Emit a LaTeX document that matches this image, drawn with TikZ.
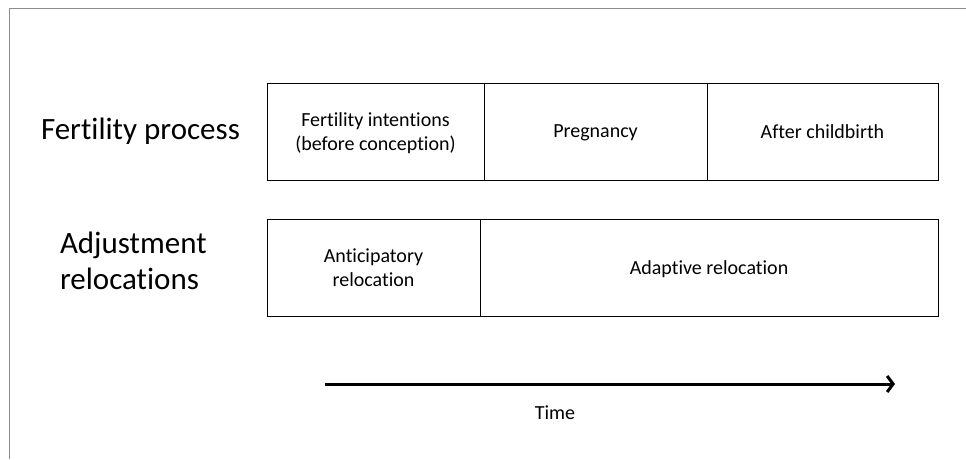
\documentclass[tikz,border=0pt]{standalone}
\usepackage{fontspec}
\setmainfont[Ligatures=NoCommon]{Carlito}
\usetikzlibrary{positioning,arrows.meta}

\begin{document}
\begin{tikzpicture}[
    x=1pt, y=-1pt,
    node distance=0pt,
    outer sep=0pt,
    stage/.style={draw, line width=0.9pt, rectangle, minimum height=97pt, inner sep=2pt, text depth=0pt, align=center, font=\fontsize{20}{23.5}\selectfont},
    rowlabel/.style={inner sep=0pt, align=left, font=\fontsize{31}{36}\selectfont}
]
    \useasboundingbox (0,0) rectangle (966,459);
    \draw[gray!90, line width=0.8pt] (9,459) |- (966,8);
    % fertility process row
    \node [stage, minimum width=217pt, anchor=north west] (intent) at (267,83) {Fertility intentions\\(before conception)};
    \node [stage, minimum width=223pt, right=of intent] (preg) {Pregnancy};
    \node [stage, minimum width=231pt, right=of preg] (after) {After childbirth};
    % adjustment row
    \node [stage, minimum width=213pt, anchor=north west] (antic) at (267,219) {Anticipatory\\relocation};
    \node [stage, minimum width=458pt, right=of antic] (adapt) {Adaptive relocation};
    % row labels
    \node [rowlabel, anchor=base west] (fertlab) at (41,139) {Fertility process};
    \node [rowlabel, anchor=north west] (adjlab) at (60,232) {Adjustment\\relocations};
    % time axis
    \coordinate (tstart) at (325,384);
    \coordinate (tend) at (895,384);
    \draw [line width=3pt, -{Straight Barb[length=6pt, width=16pt]}] (tstart) -- (tend);
    \node [font=\fontsize{20}{24}\selectfont, anchor=base] (time) at (555,419) {Time};
\end{tikzpicture}
\end{document}
